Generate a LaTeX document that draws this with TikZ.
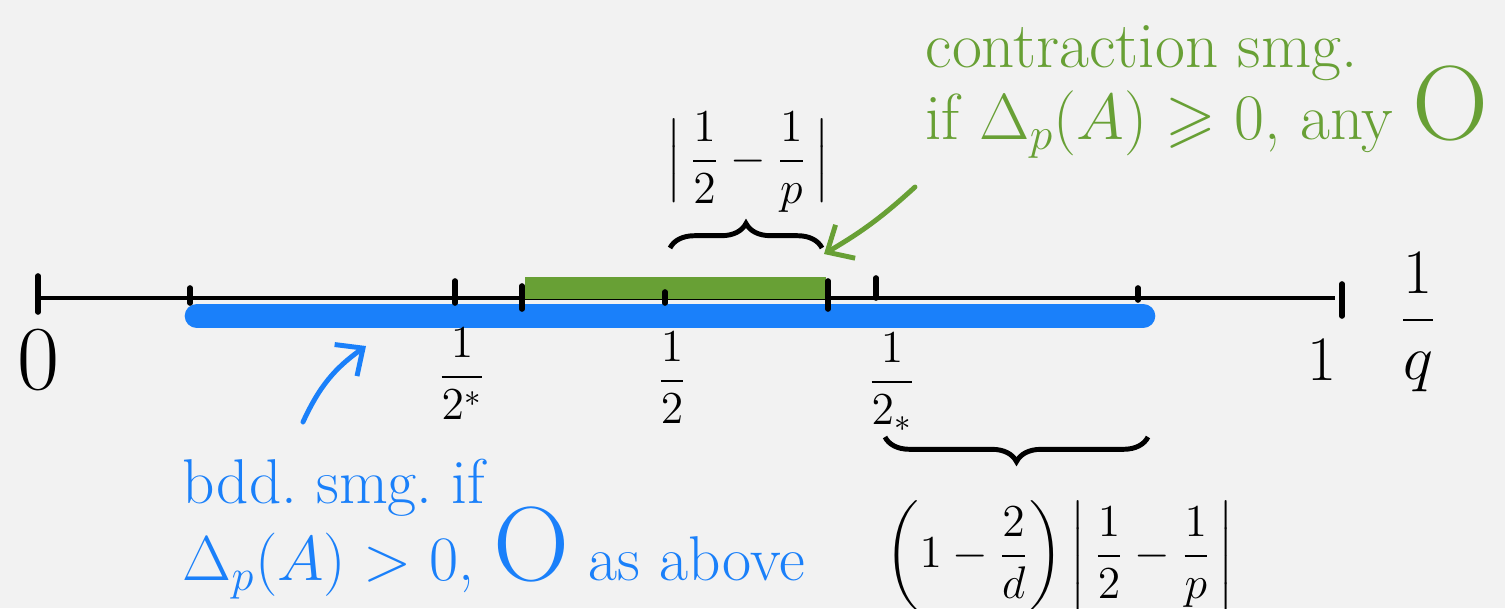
\RequirePackage{fix-cm}
\documentclass[tikz,border=0pt]{standalone}
\usepackage{amsmath, amssymb}
\usetikzlibrary{arrows.meta, decorations.pathreplacing}
\definecolor{bgpaper}{RGB}{242,242,242}
\definecolor{smgblue}{RGB}{26,128,250}
\definecolor{smggreen}{RGB}{104,160,53}
\tikzset{
  axtick/.style={line width=1.6pt, line cap=round},
  lbl/.style={font=\fontsize{13}{16}\selectfont, inner sep=0pt},
  note/.style={font=\fontsize{18.5}{20.5}\selectfont, align=left, inner sep=0pt},
  hbrace/.style={decorate, decoration={brace, amplitude=7pt}, line width=1.4pt},
  pointer/.style={-{Straight Barb[length=6pt, width=11pt]}, line width=1.4pt, line cap=round},
}
\newcommand{\bigO}{\smash{\fontsize{30}{20}\selectfont O}}

\begin{document}
\begin{tikzpicture}[x=0.01cm, y=-0.01cm]
  \fill[bgpaper] (0,0) rectangle (1505,608);
  \useasboundingbox (0,0) rectangle (1505,608);
  % number line
  \draw[line width=1.2pt] (38,298) -- (1335,298);
  \draw[axtick] (38,276) -- (38,312);
  \draw[axtick] (1342,284) -- (1342,316);
  % blue band
  \draw[smgblue, line width=7pt, line cap=round] (197,316) -- (1143,316);
  % green band
  \draw[smggreen, line width=6pt] (525,288) -- (826,288);
  % ticks
  \foreach \x/\t/\b in {190/288/303, 455/281/303, 522/286/309, 665/292/303, 828/281/309, 876/278/298, 1138/288/300}
    \draw[axtick] (\x,\t) -- (\x,\b);
  % labels under the line
  \node[lbl, font=\fontsize{26}{30}\selectfont] (zero) at (38,360) {$0$};
  \node[lbl] (pstar) at (462,374) {$\dfrac{1}{2^{*}}$};
  \node[lbl] (half) at (672,378) {$\dfrac{1}{2}$};
  \node[lbl] (plow) at (892,382) {$\dfrac{1}{2_{*}}$};
  \node[lbl, font=\fontsize{18}{20}\selectfont] (one) at (1322,360) {$1$};
  \node[lbl, font=\fontsize{18}{21}\selectfont] (invq) at (1418,322) {$\dfrac{1}{q}$};
  % braces
  \draw[hbrace] (670,248) -- (822,248);
  \node[lbl] (gap) at (748,162) {$\Bigl|\,\dfrac{1}{2}-\dfrac{1}{p}\,\Bigr|$};
  \draw[hbrace] (1148,437) -- (885,437);
  \node[lbl] (gapd) at (1060,556)
    {$\biggl(1-\dfrac{2}{d}\biggr)\,\biggl|\,\dfrac{1}{2}-\dfrac{1}{p}\,\biggr|$};
  % notes
  \node[note, smggreen, anchor=north west] (contr) at (925,25)
    {contraction smg.\\ if $\Delta_p(A)\geqslant 0$, any \bigO};
  \node[note, smgblue, anchor=north west, font=\fontsize{18}{22}\selectfont] (bdd) at (182,458)
    {bdd.\ smg.\ if\\ $\Delta_p(A)>0$, \bigO{} as above};
  \coordinate (gtail) at (915,187);
  \coordinate (gtip) at (824,254);
  \draw[pointer, smggreen] (gtail) to[bend left=6] (gtip);
  \coordinate (btail) at (303,422);
  \coordinate (btip) at (366,346);
  \draw[pointer, smgblue] (btail) to[bend left=15] (btip);
\end{tikzpicture}
\end{document}
